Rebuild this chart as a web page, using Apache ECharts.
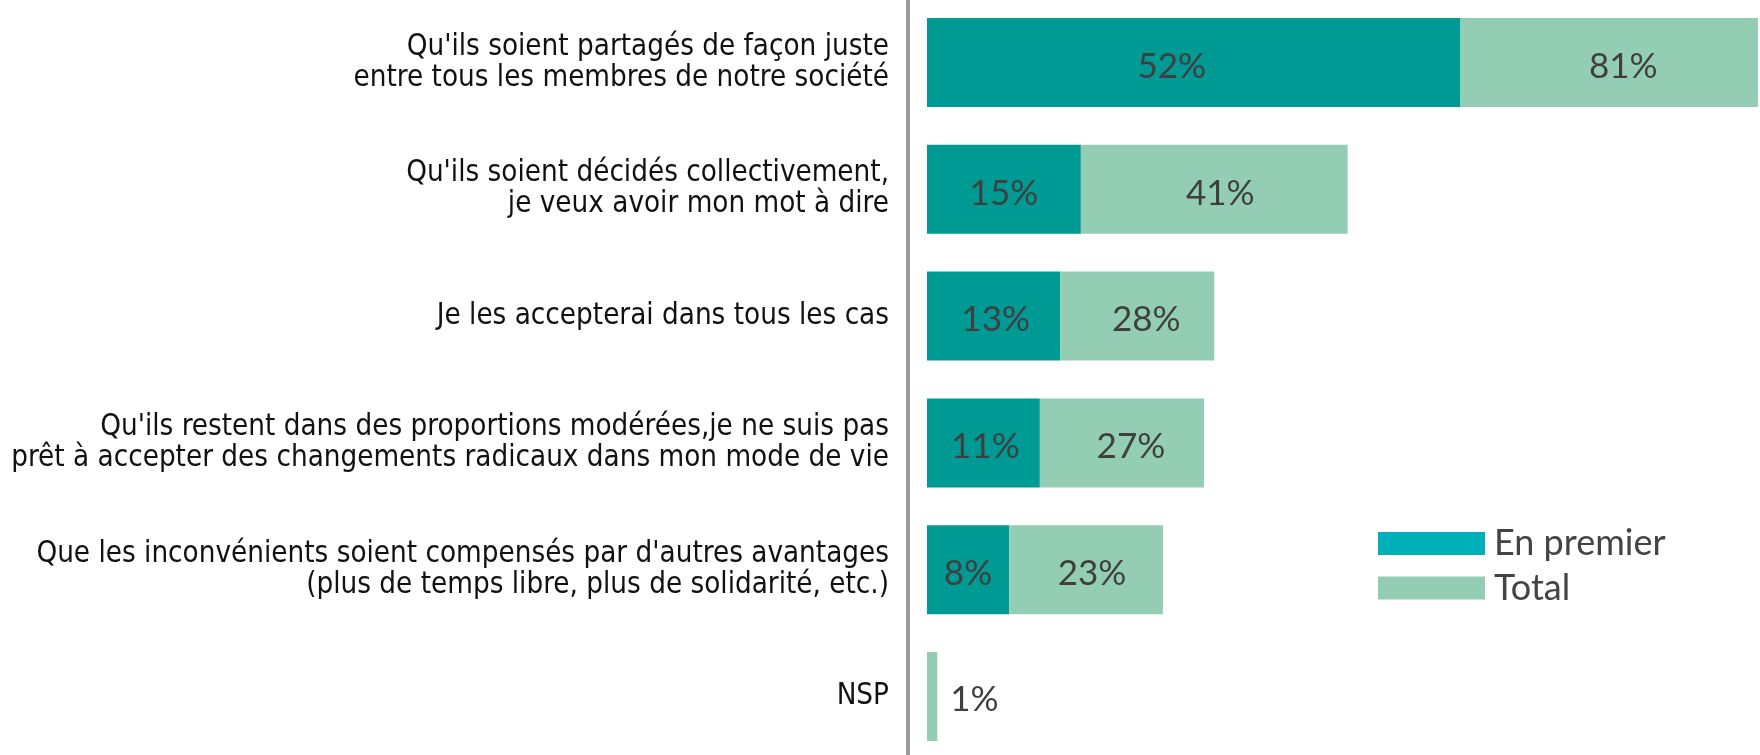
<!DOCTYPE html>
<html>
<head>
<meta charset="utf-8">
<script src="https://cdn.jsdelivr.net/npm/echarts@6/dist/echarts.min.js"></script>
<style>
  html, body { margin: 0; padding: 0; background: #ffffff; }
  #chart { width: 1760px; height: 755px; }
</style>
</head>
<body>
<div id="chart"></div>
<script>
// ---- data ----
const categories = [
  "Qu'ils soient partagés de façon juste\nentre tous les membres de notre société",
  "Qu'ils soient décidés collectivement,\nje veux avoir mon mot à dire",
  "Je les accepterai dans tous les cas",
  "Qu'ils restent dans des proportions modérées,je ne suis pas\nprêt à accepter des changements radicaux dans mon mode de vie",
  "Que les inconvénients soient compensés par d'autres avantages\n(plus de temps libre, plus de solidarité, etc.)",
  "NSP"
];
const enPremier = [52, 15, 13, 11, 8, null];
const total = [81, 41, 28, 27, 23, 1];
const seriesNames = ["En premier", "Total"];

// ---- styles ----
const LABEL_FONT = "'DejaVu Sans Condensed', 'Liberation Sans Narrow', sans-serif";
const VALUE_FONT = "Lato, 'Open Sans', sans-serif";
// horizontal nudges of the value labels (style only, not data)
const firstLabelShift = [-22, 0, 2, 2, 0, 0];
const totalLabelShift = [14, 6, 9, 9, 6, 0];
const LABEL_DY = 4;

const firstData = enPremier.map((v, i) => ({
  value: v == null ? '-' : v,
  label: { offset: [firstLabelShift[i], LABEL_DY] }
}));

const remainderData = total.map((t, i) => {
  const base = enPremier[i] == null ? 0 : enPremier[i];
  const item = { value: t - base, label: { offset: [totalLabelShift[i], LABEL_DY] } };
  if (enPremier[i] == null) {
    item.label = { position: 'right', distance: 13, offset: [0, 3] };
  }
  return item;
});

const chart = echarts.init(document.getElementById('chart'), null, { renderer: 'canvas' });
chart.setOption({
  animation: false,
  backgroundColor: '#ffffff',
  grid: { left: 927, right: 2, top: -1, bottom: -5, containLabel: false, outerBoundsMode: 'none' },
  xAxis: { type: 'value', min: 0, max: 81, show: false },
  yAxis: {
    type: 'category',
    inverse: true,
    data: categories,
    offset: 19,
    axisLine: { show: true, onZero: false, lineStyle: { color: '#9a9a9a', width: 4 } },
    axisTick: { show: false },
    axisLabel: {
      margin: 19,
      color: '#111111',
      fontFamily: LABEL_FONT,
      fontSize: 29.3,
      lineHeight: 31,
      align: 'right'
    },
    splitLine: { show: false }
  },
  legend: {
    orient: 'vertical',
    left: 1378,
    top: 525.5,
    padding: 0,
    itemGap: 8.5,
    itemWidth: 107,
    itemHeight: 23,
    icon: 'rect',
    selectedMode: false,
    textStyle: {
      fontFamily: VALUE_FONT,
      fontSize: 36,
      color: '#444444',
      padding: [0, 0, 0, 4]
    },
    data: [
      { name: seriesNames[0], itemStyle: { color: '#00b0b9' } },
      { name: seriesNames[1], itemStyle: { color: '#93cdb4' } }
    ]
  },
  series: [
    {
      name: seriesNames[0],
      type: 'bar',
      stack: 'all',
      barWidth: 89,
      itemStyle: { color: '#009a95' },
      label: {
        show: true,
        position: 'inside',
        fontFamily: VALUE_FONT,
        fontSize: 35,
        color: '#3f3f3f',
        formatter: p => (p.value == null || p.value === '-' ? '' : p.value + '%')
      },
      data: firstData
    },
    {
      name: seriesNames[1],
      type: 'bar',
      stack: 'all',
      barWidth: 89,
      itemStyle: { color: '#93cdb4' },
      label: {
        show: true,
        position: 'inside',
        fontFamily: VALUE_FONT,
        fontSize: 35,
        color: '#3f3f3f',
        formatter: p => total[p.dataIndex] + '%'
      },
      data: remainderData
    }
  ]
});
</script>
</body>
</html>
